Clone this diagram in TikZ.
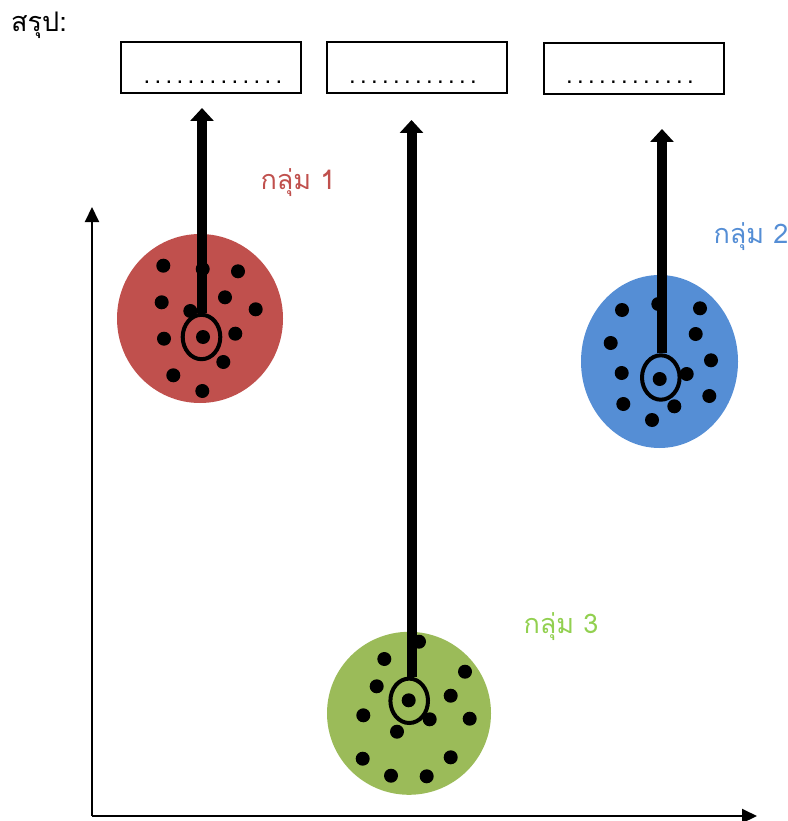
\documentclass[tikz,border=0pt]{standalone}
\usepackage{fontspec}
\usetikzlibrary{arrows.meta,shapes.geometric}
\newfontfamily\thaifont[Script=Thai]{Loma}
\newfontfamily\dotfont[LetterSpace=18]{Liberation Sans}
\definecolor{gred}{HTML}{C0504D}
\definecolor{gblue}{HTML}{558ED5}
\definecolor{ggreen}{HTML}{9BBB59}
\definecolor{lblue}{HTML}{558ED5}
\definecolor{lgreen}{HTML}{92D050}
\tikzset{
  x=1pt,y=-1pt,
  answerbox/.style={draw=black,line width=2pt,minimum width=180pt,minimum height=51pt,inner sep=0pt},
  dotline/.style={font=\dotfont\fontsize{24}{28}\selectfont,inner sep=0pt,anchor=base},
  blob/.style={ellipse,inner sep=0pt},
  pt/.style={circle,fill=black,minimum size=14pt,inner sep=0pt},
  ring/.style={ellipse,draw=black,line width=4pt,minimum width=37.6pt,minimum height=44.4pt,inner sep=0pt},
  bigarrow/.style={line width=10pt,-{Triangle[length=13pt,width=23pt]}},
  axis/.style={line width=2pt,-{Triangle[length=15pt,width=14pt]}},
  grp/.style={font=\thaifont\fontsize{27}{32}\selectfont,inner sep=0pt},
}
\begin{document}
\begin{tikzpicture}
\useasboundingbox (0,0) rectangle (787,821);
% title
\node[grp,anchor=west,font=\thaifont\fontsize{27}{32}\selectfont] (title) at (11,25) {สรุป:};
% answer boxes
\node[answerbox] (b1) at (211,67.5) {};
\node[answerbox] (b2) at (416.5,68) {};
\node[answerbox] (b3) at (633.5,68.5) {};
\node[dotline] (d1) at (213,84) {.............};
\node[dotline] (d2) at (413,84) {............};
\node[dotline] (d3) at (630,84) {............};
% axes
\coordinate (o) at (92,816);
\coordinate (ytip) at (92,207);
\coordinate (xtip) at (757,816);
\draw[axis] (o) -- (ytip);
\draw[axis] (o) -- (xtip);
% group 1 (red)
\node[blob,fill=gred,minimum width=166pt,minimum height=169pt] (c1) at (200,318.5) {};
\foreach \p in {(163.3,265.7),(202.7,269),(238,271.3),(161.7,302.3),(225,297.3),(255.7,309.3),(190.3,311),(164,338.7),(235.3,333.7),(223.3,362),(173.3,375.3),(202.3,391)}
  \node[pt] at \p {};
\node[pt] (m1) at (203,337) {};
\node[ring] (r1) at (201.5,337) {};
\coordinate (t1) at (202,108);
\draw[bigarrow] (t1 |- r1.north) -- (t1);
\node[grp,text=gred] (g1) at (298,183) {กลุ่ม 1};
% group 2 (blue)
\node[blob,fill=gblue,minimum width=157pt,minimum height=173pt] (c2) at (659.5,361.5) {};
\foreach \p in {(622,310),(658.3,304),(700,308.3),(610.7,343),(695.7,334),(711,360.3),(621.7,373),(686.7,374),(623.3,404),(709.3,396),(674.3,406.3),(652,420)}
  \node[pt] at \p {};
\node[pt] (m2) at (659.7,379) {};
\node[ring] (r2) at (660.8,377.5) {};
\coordinate (t2) at (662,129);
\draw[bigarrow] (t2 |- r2.north) -- (t2);
\node[grp,text=lblue] (g2) at (751,237) {กลุ่ม 2};
% group 3 (green)
\node[blob,fill=ggreen,minimum width=164pt,minimum height=163pt] (c3) at (409,713.3) {};
\foreach \p in {(419,641.7),(384.3,659),(465,671.7),(376.7,686.3),(450.7,695.7),(363.3,715.3),(469.7,718.7),(429.7,719.3),(397,731.7),(362.7,758.7),(450.7,757.3),(391,775.7),(426.7,776.3)}
  \node[pt] at \p {};
\node[pt] (m3) at (408.7,700.3) {};
\node[ring] (r3) at (409.2,700.8) {};
\coordinate (t3) at (411.5,120);
\draw[bigarrow] (t3 |- r3.north) -- (t3);
\node[grp,text=lgreen] (g3) at (561,627) {กลุ่ม 3};
\end{tikzpicture}
\end{document}
